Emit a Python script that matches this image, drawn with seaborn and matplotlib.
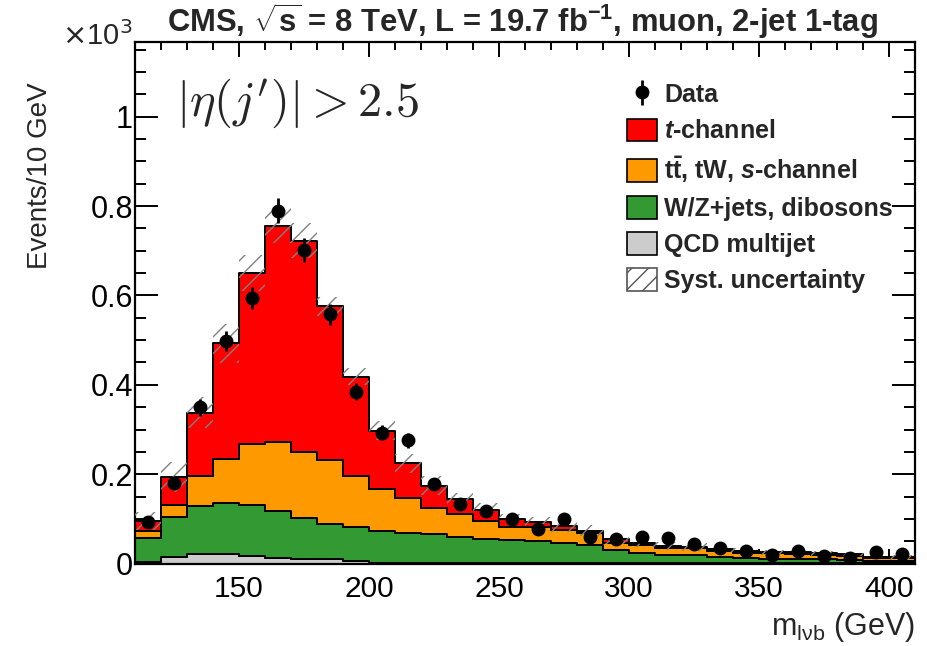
import numpy as np
import pandas as pd
import seaborn as sns
import matplotlib
matplotlib.use("Agg")
import matplotlib.pyplot as plt
from matplotlib.patches import Patch
from matplotlib.ticker import MultipleLocator, FixedLocator, FixedFormatter

# ---- binning: m(l nu b) from 110 to 410 GeV in 10 GeV bins ----
bin_edges = list(range(110, 420, 10))

# ---- observed events per bin ----
data_events = [94, 181, 350, 499, 595, 790, 702, 558, 385, 293, 276, 177, 134, 118, 99,
               77, 100, 60, 56, 59, 57, 43, 34, 29, 19, 28, 16, 12, 27, 21]

# ---- simulated contributions per bin (events) ----
qcd_multijet = [4, 15, 21, 21, 17, 12, 10, 10, 6, 2, 1, 1, 1, 1, 1,
                1, 1, 1, 1, 1, 0.5, 0.5, 0.5, 0.5, 0.5, 0.5, 0.5, 0.5, 0.5, 0.5]
wz_jets = [54, 89, 108, 115, 113, 106, 92, 78, 75, 72, 67, 65, 58, 53, 51,
           50, 46, 41, 29, 22, 18.5, 18.5, 14.5, 11.5, 9.5, 9.5, 9.5, 7.5, 6, 6]
top_bkg = [15, 27, 67, 99, 137, 155, 148, 144, 116, 92, 79, 58, 53, 42, 31,
           30, 28, 26, 16, 19, 17, 16, 14, 12, 13, 11, 9, 9, 5.5, 5.5]
t_channel = [23, 63, 142, 258, 383, 483, 472, 344, 221, 131, 77, 50, 33, 24, 16,
             11, 9, 6, 8, 5, 4, 2, 4, 5, 2, 4, 4, 4, 2, 2]

# ---- systematic uncertainty on the total prediction (events) ----
syst_unc = [20, 34, 34, 44, 40, 39, 39, 21, 19, 21, 22, 21, 13, 15, 13,
            13, 13, 12, 11, 10, 9, 8, 8, 7, 6, 6, 6, 5, 5, 5]

process_names = ["t-channel", "tt, tW, s-channel", "W/Z+jets, dibosons", "QCD multijet"]
process_colors = ["#ff0000", "#ff9900", "#339933", "#cccccc"]
legend_labels = [r"$\mathit{t}$-channel",
                 r"$\mathbf{t\bar{t}}$, tW, $\mathit{s}$-channel",
                 "W/Z+jets, dibosons",
                 "QCD multijet"]

y_major = [0, 200, 400, 600, 800, 1000]
y_major_labels = ["0", "0.2", "0.4", "0.6", "0.8", "1"]

# ---- style ----
sns.set_style("ticks")
plt.rcParams["font.family"] = ["Liberation Sans", "DejaVu Sans"]
plt.rcParams["mathtext.fontset"] = "custom"
plt.rcParams["mathtext.rm"] = "Liberation Sans:bold"
plt.rcParams["mathtext.bf"] = "Liberation Sans:bold"
plt.rcParams["mathtext.it"] = "Liberation Sans:italic:bold"
plt.rcParams["mathtext.sf"] = "Liberation Sans:bold"
plt.rcParams["hatch.linewidth"] = 1.0
plt.rcParams["hatch.color"] = "#808080"

centers = [0.5 * (a + b) for a, b in zip(bin_edges[:-1], bin_edges[1:])]

components = [t_channel, top_bkg, wz_jets, qcd_multijet]
frames = []
for name, vals in zip(process_names, components):
    frames.append(pd.DataFrame({"mlvb": centers, "events": vals, "process": name}))
df = pd.concat(frames, ignore_index=True)

W, H = 927, 646
fig = plt.figure(figsize=(W / 100, H / 100), dpi=100)
ax = fig.add_axes([135 / W, 1 - 563.6 / H, (915 - 135) / W, (563.6 - 42) / H])

sns.histplot(data=df, x="mlvb", weights="events", hue="process",
             hue_order=process_names, palette=process_colors,
             multiple="stack", bins=bin_edges, element="step", fill=True,
             alpha=1, legend=False, ax=ax)
for coll in ax.collections:
    coll.set_edgecolor("black")
    coll.set_linewidth(1.4)
    coll.set_alpha(1)

# systematic band around the total prediction
total = np.sum(np.array(components, dtype=float), axis=0)
syst = np.array(syst_unc, dtype=float)
ax.bar(centers, 2 * syst, bottom=total - syst, width=10, fill=False,
       hatch="//", edgecolor="#808080", linewidth=0, zorder=4)

# observed data with Poisson errors
data_arr = np.array(data_events, dtype=float)
data_handle = ax.errorbar(centers, data_arr, yerr=np.sqrt(data_arr), fmt="o",
                          color="black", ms=9, elinewidth=2, capsize=0, zorder=6)

# ---- axes ----
ax.set_xlim(110, 410)
ax.set_ylim(0, 1167)
ax.set_xlabel("")
ax.set_ylabel("")
ax.xaxis.set_major_locator(MultipleLocator(50))
ax.xaxis.set_minor_locator(MultipleLocator(10))
ax.yaxis.set_major_locator(FixedLocator(y_major))
ax.yaxis.set_major_formatter(FixedFormatter(y_major_labels))
ax.yaxis.set_minor_locator(MultipleLocator(50))
ax.tick_params(axis="both", which="both", direction="in", top=True, right=True,
               width=1.4, colors="black")
ax.tick_params(axis="y", which="major", length=16.5, pad=1.5, labelsize=22)
ax.tick_params(axis="y", which="minor", length=8)
ax.tick_params(axis="x", which="major", length=11, pad=8, labelsize=21.5)
ax.tick_params(axis="x", which="minor", length=5.5)
for sp in ax.spines.values():
    sp.set_linewidth(1.6)
    sp.set_color("black")
    sp.set_visible(True)

# ---- legend ----
handles = [data_handle]
for c in process_colors:
    handles.append(Patch(facecolor=c, edgecolor="black", linewidth=1.2))
handles.append(Patch(facecolor="white", edgecolor="#555555", hatch="//", linewidth=1.2))
labels = ["Data"] + legend_labels + ["Syst. uncertainty"]
ax.legend(handles, labels, loc="upper left", bbox_to_anchor=(614 / W, 1 - 70 / H),
          bbox_transform=fig.transFigure, frameon=False, borderpad=0,
          handlelength=1.2, handleheight=1.0, handletextpad=0.3,
          labelspacing=0.45, prop={"weight": "bold", "size": 18})

# ---- texts ----
fig.text(167 / W, 1 - 32 / H,
         r"CMS, $\sqrt{\mathbf{s}}$ = 8 TeV, L = 19.7 fb$^{\mathbf{-1}}$, muon, 2-jet 1-tag",
         ha="left", va="baseline", fontsize=22.3, fontweight="bold")
fig.text(62 / W, 1 - 45 / H, r"$\times$10$^{3}$", ha="left", va="baseline",
         fontsize=21, math_fontfamily="dejavusans")
fig.text(176 / W, 1 - 116 / H, r"$|\eta(j')| > 2.5$", ha="left", va="baseline",
         fontsize=35, math_fontfamily="cm")
fig.text(40 / W, 1 - 176 / H, "Events/10 GeV", rotation=90, ha="center", va="center",
         fontsize=20)
fig.text(915 / W, 1 - 635 / H, r"m$_{\mathregular{l\nu b}}$ (GeV)", ha="right",
         va="baseline", fontsize=22, math_fontfamily="dejavusans")

fig.savefig("out.png", dpi=100)
